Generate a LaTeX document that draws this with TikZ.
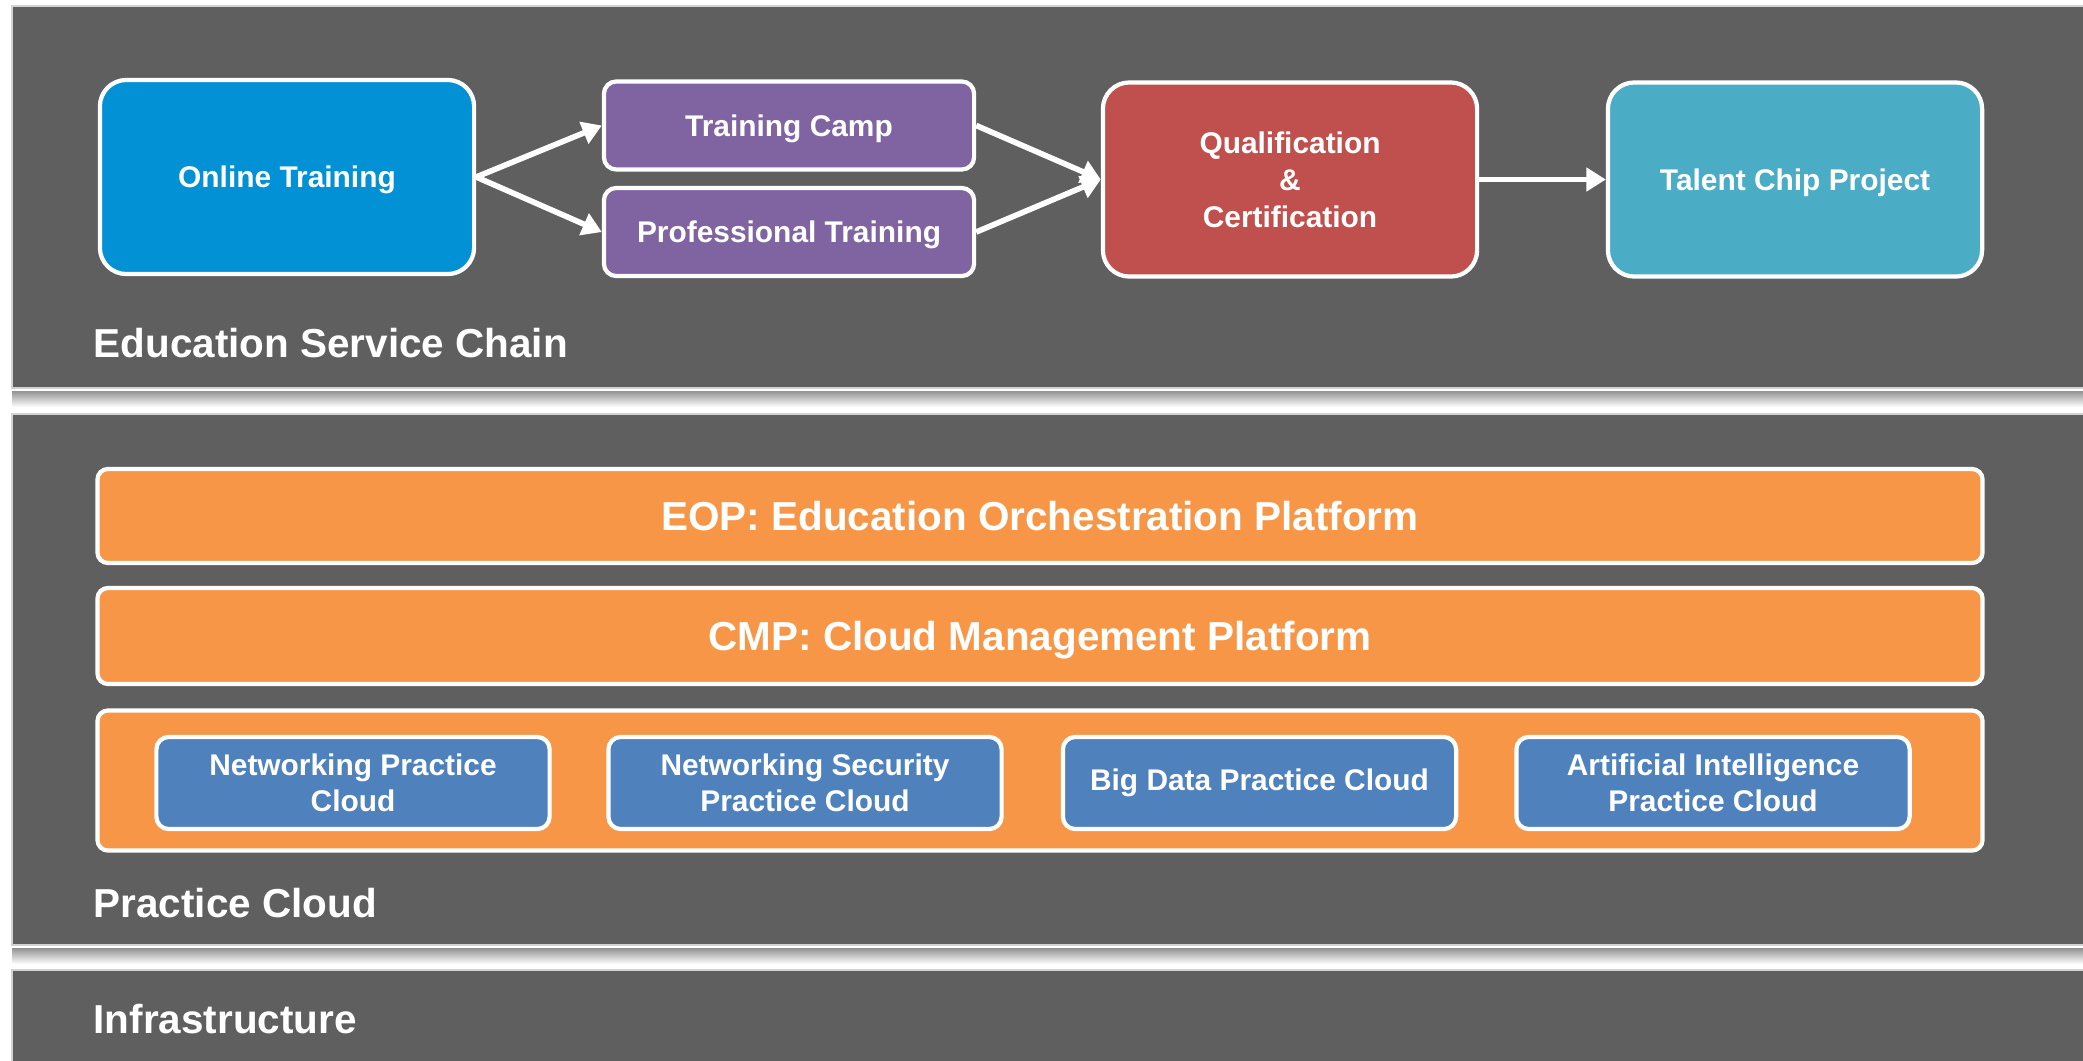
\documentclass[tikz,border=0pt]{standalone}
\usepackage{fontspec}
\setmainfont{Liberation Sans}
\usetikzlibrary{arrows.meta,positioning}

\definecolor{bandgray}{RGB}{95,95,95}
\definecolor{onlineblue}{RGB}{2,145,213}
\definecolor{campviolet}{RGB}{128,100,162}
\definecolor{certred}{RGB}{192,80,77}
\definecolor{talentteal}{RGB}{75,172,198}
\definecolor{platorange}{RGB}{247,150,70}
\definecolor{cloudblue}{RGB}{79,129,189}

\begin{document}
\begin{tikzpicture}[x=0.01cm,y=-0.01cm,
	band/.style={fill=bandgray, draw=gray!35, line width=0.4pt},
	bandlabel/.style={anchor=base west, inner sep=0pt, text=white, font=\fontsize{11.5}{14}\selectfont\bfseries},
	stage/.style={draw=white, line width=1.2pt, text=white, align=center, font=\fontsize{8.5}{10.5}\selectfont\bfseries},
	bigstage/.style={stage, text depth=0pt, rounded corners=7.5pt, minimum width=3.74cm, minimum height=1.94cm},
	smallstage/.style={stage, text depth=0pt, rounded corners=3.5pt, minimum width=3.70cm, minimum height=0.88cm},
	platform/.style={draw=white, line width=1.2pt, fill=platorange, rounded corners=3pt, text=white, text depth=0pt, minimum width=18.84cm, font=\fontsize{11.5}{14}\selectfont\bfseries},
	cloudbox/.style={stage, fill=cloudblue, rounded corners=3.5pt, minimum width=3.93cm, minimum height=0.92cm, font=\fontsize{8.5}{10.2}\selectfont\bfseries},
	flow/.style={white, line width=1.6pt, -{Triangle[length=5.5pt,width=6.5pt]}}]
		\useasboundingbox (0,0) rectangle (2083,1060);

		% Bands with their shadows
		\draw[band] (12,6) rectangle (2095,388);
		\shade[top color=gray!85, bottom color=white] (12,391) rectangle (2095,407);
		\draw[band] (12,414) rectangle (2095,945);
		\shade[top color=gray!85, bottom color=white] (12,948) rectangle (2095,964);
		\draw[band] (12,970) rectangle (2095,1070);

		% Education service chain
		\node[bigstage, fill=onlineblue] (online) at (287,177) {Online Training};
		\node[smallstage, fill=campviolet] (camp) at (789,125.5) {Training Camp};
		\node[smallstage, fill=campviolet] (prof) at (789,232) {Professional Training};
		\node[bigstage, fill=certred] (qual) at (1290,179.5) {Qualification\\\&\\Certification};
		\node[bigstage, fill=talentteal] (talent) at (1795,179.5) {Talent Chip Project};

		\draw[flow] (online.east) -- (camp.west);
		\draw[flow] (online.east) -- (prof.west);
		\draw[flow] (camp.east) -- (qual.west);
		\draw[flow] (prof.east) -- (qual.west);
		\draw[flow] (qual.east) -- (talent.west);

		\node[bandlabel] (chainlabel) at (93,357) {Education Service Chain};

		% Practice cloud
		\node[platform, minimum height=0.94cm] (eop) at (1040,516) {EOP: Education Orchestration Platform};
		\node[platform, minimum height=0.96cm] (cmp) at (1040,636) {CMP: Cloud Management Platform};
		\node[platform, minimum height=1.40cm] (practice) at (1040,780.5) {};
		\foreach \x/\nm/\txt in {353/netcloud/{Networking Practice\\Cloud},
				805/seccloud/{Networking Security\\Practice Cloud},
				1259.5/bigcloud/{Big Data Practice Cloud},
				1713/aicloud/{Artificial Intelligence\\Practice Cloud}} {
			\node[cloudbox] (\nm) at (\x,783) {\txt};
		}

		\node[bandlabel] (cloudlabel) at (93,917) {Practice Cloud};

		% Infrastructure
		\node[bandlabel] (infralabel) at (93,1033) {Infrastructure};
	\end{tikzpicture}
\end{document}
